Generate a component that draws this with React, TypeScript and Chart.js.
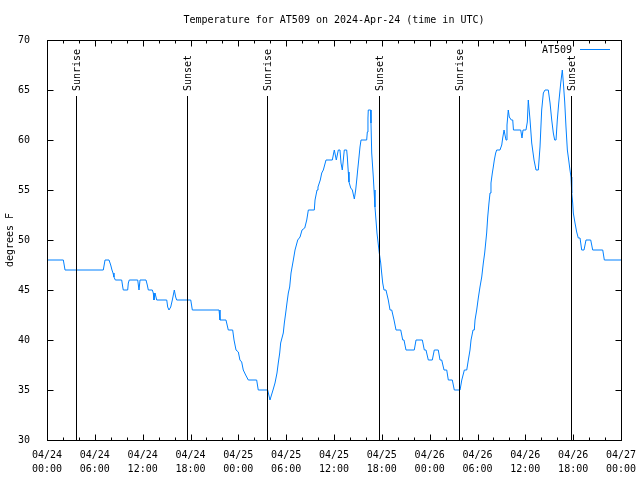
import React, { useEffect, useRef } from "react";
import { Chart, registerables } from "chart.js";

Chart.register(...registerables);

const FONT = "DejaVu Sans Mono";
const SERIES_NAME = "AT509";
const SERIES_COLOR = "rgb(0,128,255)";
const TITLE = "Temperature for AT509 on 2024-Apr-24 (time in UTC)";

// hours since 2024-04-24 00:00 UTC
const hours = [
  0, 2.05, 2.26, 7.06, 7.28, 7.78, 7.99, 8.15, 8.28, 8.4,
  8.57, 9.37, 9.5, 9.57, 10.12, 10.2, 10.32, 11.38, 11.54, 11.67,
  12.42, 12.58, 12.71, 13.21, 13.33, 13.42, 13.55, 13.76, 15.02, 15.14,
  15.3, 15.52, 15.72, 15.97, 16.14, 16.27, 18.03, 18.23, 21.58, 21.7,
  22.45, 22.74, 23.29, 23.46, 23.71, 24.0, 24.2, 24.42, 24.62, 24.92,
  25.25, 26.3, 26.5, 27.68, 27.97, 28.35, 28.6, 28.85, 29.01, 29.19,
  29.31, 29.64, 29.77, 29.94, 30.1, 30.27, 30.44, 30.61, 30.9, 31.11,
  31.45, 31.74, 31.99, 32.33, 32.58, 32.78, 33.53, 33.62, 33.87, 33.99,
  34.28, 34.46, 34.66, 35.0, 35.79, 35.96, 36.04, 36.29, 36.54, 36.75,
  36.88, 37.04, 37.17, 37.29, 37.59, 37.67, 37.79, 37.88, 38.1, 38.3,
  38.55, 38.72, 38.85, 38.97, 39.1, 39.26, 39.39, 40.1, 40.18, 40.26,
  40.3, 40.6, 40.64, 40.73, 40.93, 41.02, 41.14, 41.39, 41.68, 41.86,
  41.98, 42.11, 42.27, 42.52, 42.81, 43.03, 43.24, 43.53, 43.78, 44.37,
  44.62, 44.78, 45.03, 46.07, 46.29, 47.08, 47.33, 47.54, 47.83, 48.33,
  48.58, 49.08, 49.3, 49.51, 49.8, 50.14, 50.34, 50.84, 51.09, 51.81,
  52.03, 52.35, 52.65, 52.85, 53.06, 53.19, 53.44, 53.6, 53.69, 53.9,
  54.1, 54.31, 54.53, 54.73, 54.9, 55.15, 55.28, 55.44, 55.57, 55.69,
  55.86, 55.98, 56.11, 56.28, 56.41, 56.82, 57.04, 57.16, 57.33, 57.45,
  57.58, 57.7, 57.86, 57.99, 58.24, 58.42, 58.51, 59.42, 59.58, 59.71,
  60.08, 60.25, 60.37, 60.59, 60.8, 61.09, 61.34, 61.63, 61.84, 62.05,
  62.26, 62.47, 62.88, 63.1, 63.31, 63.51, 63.68, 63.85, 64.01, 64.19,
  64.44, 64.64, 64.77, 64.94, 65.1, 65.27, 65.44, 65.6, 65.73, 65.82,
  65.94, 66.02, 66.23, 66.44, 66.64, 66.86, 67.07, 67.36, 67.61, 68.2,
  68.45, 69.71, 69.91, 72,
];

// temperature, degrees F
const temps = [
  48, 48, 47, 47, 48, 48, 47.5, 47, 46.7, 46.3,
  46, 46, 45.3, 45, 45, 45.7, 46, 46, 45, 46,
  46, 45.5, 45, 45, 44.7, 44, 44.7, 44, 44, 43.3,
  43, 43.3, 44, 45, 44.3, 44, 44, 43, 43, 42,
  42, 41, 41, 40, 39, 38.8, 38, 37.8, 37, 36.5,
  36, 36, 35, 35, 34, 35, 35.7, 36.7, 37.7, 38.7,
  39.7, 40.7, 41.7, 42.7, 43.7, 44.7, 45.3, 46.7, 48, 49,
  50, 50.3, 51, 51.2, 52, 53, 53, 54, 55, 55.3,
  56, 56.7, 57, 58, 58, 58.7, 59, 58, 59, 59,
  57.7, 57, 58, 59, 59, 58.3, 56.8, 55.8, 55.2, 55,
  54.1, 55, 56, 57, 58, 59.3, 60, 60, 60.8, 62.2,
  63, 63, 61.7, 58.7, 56.3, 55, 53.3, 50.7, 48.7, 47.7,
  46.7, 45.7, 45, 45, 44, 43, 43, 42, 41, 41,
  40, 40, 39, 39, 40, 40, 39, 39, 38, 38,
  39, 39, 38, 38, 37, 37, 36, 36, 35, 35,
  36, 37, 37, 38, 39, 40, 41, 41, 42, 43,
  44.2, 45.3, 46.3, 47.7, 48.7, 50.7, 52.3, 53.7, 54.7, 55.7,
  56.7, 57.3, 58, 58.7, 59, 59, 59.5, 60.2, 61, 60.5,
  60, 61.5, 63, 62.3, 62, 62, 61, 61, 60.2, 61,
  61, 61.8, 64, 62, 59.7, 58, 57, 57, 59.3, 63,
  64.7, 65, 65, 63.7, 62, 60.7, 60, 60, 62, 63.7,
  65.7, 67, 65.7, 63.8, 61.3, 59, 58, 57, 56.3, 54.7,
  53.7, 52.7, 51.7, 50.8, 50.2, 50.2, 49, 49, 50, 50,
  49, 49, 48, 48,
];

// x tick labels (every 6 hours)
const tickDates = ["04/24", "04/24", "04/24", "04/24", "04/25", "04/25", "04/25", "04/25", "04/26", "04/26", "04/26", "04/26", "04/27"];
const tickTimes = ["00:00", "06:00", "12:00", "18:00", "00:00", "06:00", "12:00", "18:00", "00:00", "06:00", "12:00", "18:00", "00:00"];

// sun events (hours since start)
const eventHours = [3.64, 17.56, 27.6, 41.65, 51.68, 65.73];
const eventNames = ["Sunrise", "Sunset", "Sunrise", "Sunset", "Sunrise", "Sunset"];

const framePlugin = {
  id: "gnuFrame",
  afterDatasetsDraw(chart: any) {
    const { ctx, chartArea: a, scales } = chart;
    const xs = scales.x;
    const ys = scales.y;
    const L = Math.round(a.left) + 0.5;
    const R = Math.round(a.right) + 0.5;
    const T = Math.round(a.top) + 0.5;
    const B = Math.round(a.bottom) + 0.5;
    ctx.save();
    ctx.strokeStyle = "#000";
    ctx.fillStyle = "#000";
    ctx.lineWidth = 1;
    ctx.font = `10px "${FONT}"`;

    // sun event lines and labels
    eventHours.forEach((h, i) => {
      const px = Math.round(xs.getPixelForValue(h)) + 0.5;
      ctx.beginPath();
      ctx.moveTo(px, a.top + 56);
      ctx.lineTo(px, B);
      ctx.stroke();
      ctx.save();
      ctx.translate(px + 1, a.top + 51);
      ctx.rotate(-Math.PI / 2);
      ctx.textAlign = "left";
      ctx.textBaseline = "middle";
      ctx.fillText(eventNames[i], 0, 0);
      ctx.restore();
    });

    // border
    ctx.strokeRect(L, T, R - L, B - T);

    // x ticks: major every 6h, minor every 2h
    for (let v = 0; v <= 72; v += 2) {
      const px = Math.round(xs.getPixelForValue(v)) + 0.5;
      const len = v % 6 === 0 ? 6 : 3;
      ctx.beginPath();
      ctx.moveTo(px, B);
      ctx.lineTo(px, B - len);
      ctx.moveTo(px, T);
      ctx.lineTo(px, T + len);
      ctx.stroke();
    }
    // y ticks every 5
    for (let v = 30; v <= 70; v += 5) {
      const py = Math.round(ys.getPixelForValue(v)) + 0.5;
      ctx.beginPath();
      ctx.moveTo(L, py);
      ctx.lineTo(L + 6, py);
      ctx.moveTo(R, py);
      ctx.lineTo(R - 6, py);
      ctx.stroke();
    }

    // legend
    ctx.textAlign = "right";
    ctx.textBaseline = "middle";
    ctx.fillText(SERIES_NAME, a.right - 49, a.top + 10);
    ctx.strokeStyle = SERIES_COLOR;
    ctx.beginPath();
    ctx.moveTo(a.right - 41, a.top + 9.5);
    ctx.lineTo(a.right - 11, a.top + 9.5);
    ctx.stroke();
    ctx.restore();
  },
};

export default function App() {
  const ref = useRef<HTMLCanvasElement | null>(null);

  useEffect(() => {
    if (!ref.current) return;
    const data = hours.map((h, i) => ({ x: h, y: temps[i] }));
    const chart = new Chart(ref.current, {
      type: "line",
      data: {
        datasets: [
          {
            label: SERIES_NAME,
            data,
            borderColor: SERIES_COLOR,
            backgroundColor: SERIES_COLOR,
            borderWidth: 1,
            pointRadius: 0,
            tension: 0,
            fill: false,
          },
        ],
      },
      options: {
        responsive: false,
        animation: false,
        devicePixelRatio: 1,
        layout: { padding: { top: 0, right: 19, bottom: 0, left: 0 } },
        plugins: {
          legend: { display: false },
          tooltip: { enabled: false },
          title: {
            display: true,
            text: TITLE,
            color: "#000",
            fullSize: false,
            font: { family: FONT, size: 10, weight: "normal", lineHeight: 1.2 },
            padding: { top: 14, bottom: 14 },
          },
        },
        scales: {
          x: {
            type: "linear",
            position: "bottom",
            min: 0,
            max: 72,
            grid: { display: false },
            border: { display: false },
            ticks: {
              stepSize: 6,
              autoSkip: false,
              maxRotation: 0,
              minRotation: 0,
              padding: 0,
              color: "#000",
              font: { family: FONT, size: 10, lineHeight: 1.4 },
              callback: (v: any) => {
                const i = Math.round(Number(v) / 6);
                return [tickDates[i], tickTimes[i]];
              },
            },
            afterFit: (s: any) => {
              s.height = 40;
            },
          },
          y: {
            type: "linear",
            position: "left",
            min: 30,
            max: 70,
            grid: { display: false },
            border: { display: false },
            title: {
              display: true,
              text: "degrees F",
              color: "#000",
              font: { family: FONT, size: 10, lineHeight: 1.2 },
              padding: { top: 4, bottom: 0 },
            },
            ticks: {
              stepSize: 5,
              padding: 9,
              color: "#000",
              font: { family: FONT, size: 10 },
            },
            afterFit: (s: any) => {
              s.width = 47;
            },
          },
        },
      },
      plugins: [framePlugin],
    });
    return () => chart.destroy();
  }, []);

  return (
    <div style={{ position: "absolute", left: 0, top: 0, width: 640, height: 480, background: "#fff" }}>
      <canvas ref={ref} width={640} height={480} style={{ display: "block" }} />
    </div>
  );
}
